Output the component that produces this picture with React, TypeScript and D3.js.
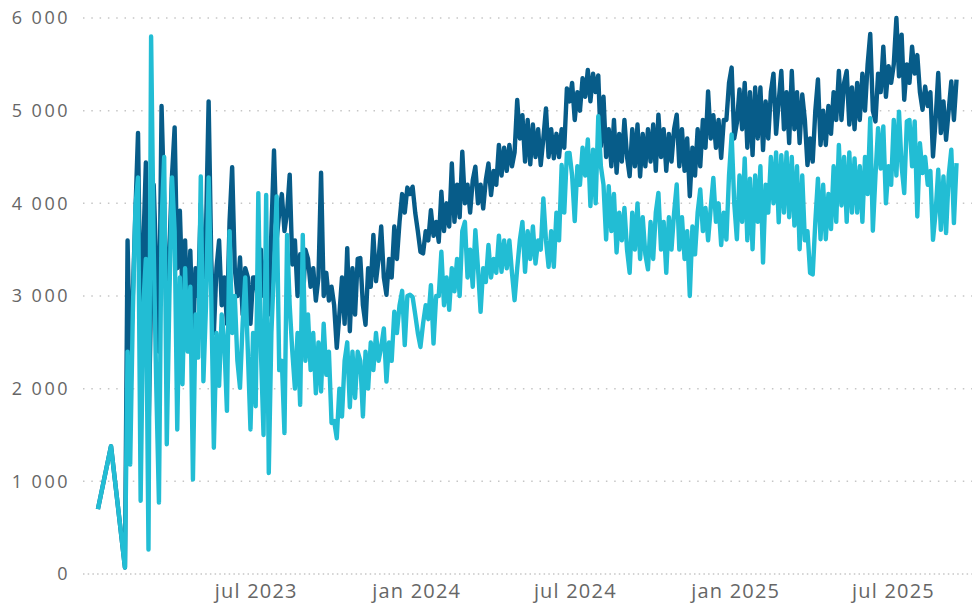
import React, { useEffect, useRef } from 'react';
import * as d3 from 'd3';

// two daily series, sampled every 3 days from 1 Feb 2023 (plus two early January points)
const januaryDates = ['2023-01-01', '2023-01-16'];
const januaryValues = [700, 1380];

const seriesStart = '2023-02-01';
const stepDays = 3;

// one line = 30 days
const darkValues = [
  70, 3600, 2150, 3000, 3900, 4760, 2600, 3500, 4440, 1500,
  3000, 4200, 3300, 2400, 5050, 4000, 2600, 3500, 4300, 4820,
  3300, 3920, 3000, 3600, 2700, 3490, 2500, 3300, 3000, 4000,
  3200, 3700, 5100, 3400, 2600, 3300, 3600, 2900, 3200, 2700,
  3800, 4390, 3300, 3000, 3415, 2800, 3300, 3200, 2700, 3200,
  3200, 2900, 3500, 3000, 3400, 2800, 3700, 4570, 3600, 3900,
  4100, 3700, 3900, 4310, 3340, 3600, 3000, 3450, 2900, 3500,
  3400, 3100, 3300, 2950, 3200, 4330, 3000, 3250, 2950, 3100,
  2900, 2440, 2800, 3200, 2700, 3517, 2620, 3300, 2800, 3400,
  3410, 2900, 2690, 3300, 3100, 3660, 3160, 3400, 3750, 3200,
  3013, 3400, 3200, 3750, 3400, 3800, 4100, 3900, 4170, 4100,
  4180, 3900, 3700, 3477, 3460, 3700, 3600, 3927, 3650, 3800,
  3585, 4125, 3700, 4000, 3750, 4430, 3800, 4200, 3850, 4557,
  4000, 4200, 3900, 4250, 4395, 4000, 4200, 3945, 4250, 4430,
  4090, 4350, 4200, 4630, 4300, 4600, 4350, 4630, 4400, 4550,
  5115, 4700, 4950, 4450, 4900, 4420, 4850, 4500, 4800, 4413,
  4700, 5025, 4500, 4800, 4485, 4750, 4500, 4800, 4600, 5240,
  5100, 5300, 4900, 5200, 5000, 5350, 5150, 5440, 5100, 5400,
  5200, 5380, 4616, 5150, 4500, 4800, 4400, 4900, 4330, 4750,
  4450, 4900, 4500, 4293, 4800, 4400, 4850, 4290, 4750, 4400,
  4800, 4450, 4850, 4350, 4957, 4500, 4800, 4350, 4750, 4450,
  4800, 4957, 4400, 4800, 4350, 4700, 4077, 4600, 4300, 4800,
  4400, 4900, 4600, 5208, 4700, 4950, 4600, 4900, 4490, 4900,
  4900, 5300, 5465, 4700, 4867, 5230, 4800, 5300, 4600, 5200,
  4520, 5250, 4700, 5250, 4575, 5100, 4700, 5200, 5400, 4750,
  5100, 5428, 4800, 5200, 4650, 5428, 4800, 5200, 4650, 5174,
  4900, 4412, 4700, 4450, 5000, 5338, 4630, 5000, 4630, 5050,
  4750, 5200, 4900, 5428, 4900, 5300, 5428, 4850, 5250, 4800,
  5300, 4900, 5400, 5000, 5500, 5828, 5000, 4884, 5400, 5200,
  5690, 5150, 5480, 5300, 5500, 6000, 5370, 5820, 5118, 5500,
  5300, 5690, 5400, 5600, 5200, 5010, 5260, 5050, 5200, 4506,
  4900, 5406, 4758, 5100, 4686, 5000, 5316, 4900, 5334,
];

const cyanValues = [
  70, 2400, 1180, 2800, 3960, 4280, 790, 2900, 3400, 265,
  5800, 3500, 2000, 770, 3800, 4500, 1400, 3000, 4280, 3700,
  1560, 3200, 2047, 3300, 2400, 3100, 1020, 2800, 2335, 4290,
  2080, 2900, 4280, 3000, 1363, 2600, 2030, 2800, 2500, 1760,
  3700, 2600, 3000, 2300, 2010, 2700, 3200, 2400, 1560, 2600,
  1810, 4110, 2400, 1500, 4090, 1090, 2600, 3300, 4075, 2200,
  2300, 1520, 3660, 2900, 2400, 2000, 2600, 1825, 3660, 2300,
  2800, 2200, 2600, 1950, 2500, 1970, 2700, 2150, 2400, 1630,
  1650, 1465, 2000, 1700, 2300, 2500, 1800, 2400, 1900, 2400,
  2300, 1700, 2400, 2000, 2500, 2200, 2600, 2300, 2450, 2650,
  2077, 2500, 2300, 2830, 2600, 2900, 3056, 2470, 3000, 3013,
  2990, 2800, 2600, 2450, 2700, 2900, 2750, 3117, 2487, 3000,
  3000, 3477, 2900, 3200, 2850, 3300, 3050, 3400, 3000, 3700,
  3800, 3200, 3500, 3100, 3710, 3300, 2830, 3300, 3150, 3550,
  3200, 3400, 3250, 3650, 3260, 3600, 3300, 3600, 3250, 2955,
  3300, 3600, 3800, 3260, 3700, 3400, 3750, 3350, 3600, 3500,
  4053, 3600, 3315, 3700, 3315, 3900, 3600, 4413, 3900, 4540,
  4544, 4300, 3808, 4400, 4200, 4600, 4300, 4690, 3970, 4580,
  4000, 4939, 4400, 4200, 3610, 4185, 3700, 4100, 3470, 3900,
  3600, 3950, 3500, 3250, 3900, 3500, 4000, 3400, 3850, 3450,
  3288, 3800, 3400, 3900, 4113, 3500, 3800, 3250, 3850, 3500,
  3900, 4203, 3500, 3850, 3400, 3700, 3000, 3750, 3450, 3900,
  4150, 3700, 3950, 3600, 3950, 4275, 3800, 4000, 3550, 3900,
  3610, 4300, 4742, 4000, 3613, 4300, 3800, 4485, 3600, 4267,
  3504, 4300, 3800, 4400, 3360, 4200, 3900, 4500, 4000, 4550,
  3795, 4520, 3900, 4550, 3850, 4500, 3760, 4400, 3504, 4300,
  3600, 3700, 3250, 3232, 3800, 4267, 3613, 4200, 3613, 4100,
  3722, 4400, 3800, 4630, 3977, 4500, 3800, 4550, 3900, 4485,
  3900, 4400, 3800, 4500, 4100, 4920, 3704, 4300, 4811, 4376,
  4830, 4000, 4400, 4200, 4900, 4300, 4990, 4400, 4110, 4884,
  4900, 4400, 4884, 3858, 4650, 4326, 4500, 4200, 4350, 3606,
  3900, 4362, 3714, 4290, 3678, 4300, 4578, 3786, 4434,
];

const yTicks = [0, 1000, 2000, 3000, 4000, 5000, 6000];
const xTickDates = ['2023-07-01', '2024-01-01', '2024-07-01', '2025-01-01', '2025-07-01'];

const WIDTH = 974;
const HEIGHT = 603;

type Point = { date: Date; value: number };

const parseDay = d3.timeParse('%Y-%m-%d');

const nbLocale = d3.timeFormatLocale({
  dateTime: '%d.%m.%Y %H:%M',
  date: '%d.%m.%Y',
  time: '%H:%M:%S',
  periods: ['', ''],
  days: ['søndag', 'mandag', 'tirsdag', 'onsdag', 'torsdag', 'fredag', 'lørdag'],
  shortDays: ['søn', 'man', 'tir', 'ons', 'tor', 'fre', 'lør'],
  months: ['januar', 'februar', 'mars', 'april', 'mai', 'juni', 'juli', 'august', 'september', 'oktober', 'november', 'desember'],
  shortMonths: ['jan', 'feb', 'mar', 'apr', 'mai', 'jun', 'jul', 'aug', 'sep', 'okt', 'nov', 'des'],
});
const numLocale = d3.formatLocale({ decimal: ',', thousands: '\u00a0', grouping: [3], currency: ['', ' kr'] });

const buildSeries = (values: number[]): Point[] => {
  const start = parseDay(seriesStart) as Date;
  const early = januaryDates.map((d, i) => ({ date: parseDay(d) as Date, value: januaryValues[i] }));
  const rest = values.map((v, i) => ({ date: d3.timeDay.offset(start, i * stepDays), value: v }));
  return early.concat(rest);
};

const Chart = () => {
  const svgRef = useRef<SVGSVGElement>(null);

  useEffect(() => {
    const svg = d3.select(svgRef.current);
    svg.selectAll('*').remove();

    const x = d3.scaleTime()
      .domain([parseDay('2023-07-01') as Date, parseDay('2025-07-01') as Date])
      .range([255.7, 892.9]);
    const y = d3.scaleLinear().domain([0, 6000]).range([574, 18]);

    const fmtY = numLocale.format(',');
    const fmtX = nbLocale.format('%b %Y');

    // gridlines (baseline has tighter dots)
    svg.append('g')
      .selectAll('line')
      .data(yTicks)
      .enter().append('line')
      .attr('x1', 83)
      .attr('x2', 972)
      .attr('y1', d => y(d))
      .attr('y2', d => y(d))
      .attr('stroke', '#c6c6c6')
      .attr('stroke-width', 1.5)
      .attr('stroke-dasharray', d => (d === 0 ? '1.5,3.2' : '1.5,6.8'));

    svg.append('g')
      .selectAll('text')
      .data(yTicks)
      .enter().append('text')
      .attr('x', 70)
      .attr('y', d => y(d))
      .attr('dy', '0.35em')
      .attr('text-anchor', 'end')
      .style('font-family', '"Open Sans", sans-serif')
      .style('font-size', '18px')
      .style('letter-spacing', '2.5px')
      .style('fill', '#666')
      .text(d => fmtY(d));

    svg.append('g')
      .selectAll('text')
      .data(xTickDates.map(d => parseDay(d) as Date))
      .enter().append('text')
      .attr('x', d => x(d) + 0.6)
      .attr('y', 598)
      .attr('text-anchor', 'middle')
      .style('font-family', '"Open Sans", sans-serif')
      .style('font-size', '20px')
      .style('letter-spacing', '1.2px')
      .style('fill', '#666')
      .text(d => fmtX(d));

    const line = d3.line<Point>()
      .x(d => x(d.date))
      .y(d => y(d.value));

    const series = [
      { values: buildSeries(darkValues), color: '#075c89' },
      { values: buildSeries(cyanValues), color: '#22bdd4' },
    ];

    svg.append('g')
      .selectAll('path')
      .data(series)
      .enter().append('path')
      .attr('d', d => line(d.values))
      .attr('fill', 'none')
      .attr('stroke', d => d.color)
      .attr('stroke-width', 4.4)
      .attr('stroke-linejoin', 'round');
  }, []);

  return (
    <svg ref={svgRef} width={WIDTH} height={HEIGHT}
      style={{ position: 'absolute', left: 0, top: 0, background: '#fff' }} />
  );
};

export default function App() {
  return <Chart />;
}
